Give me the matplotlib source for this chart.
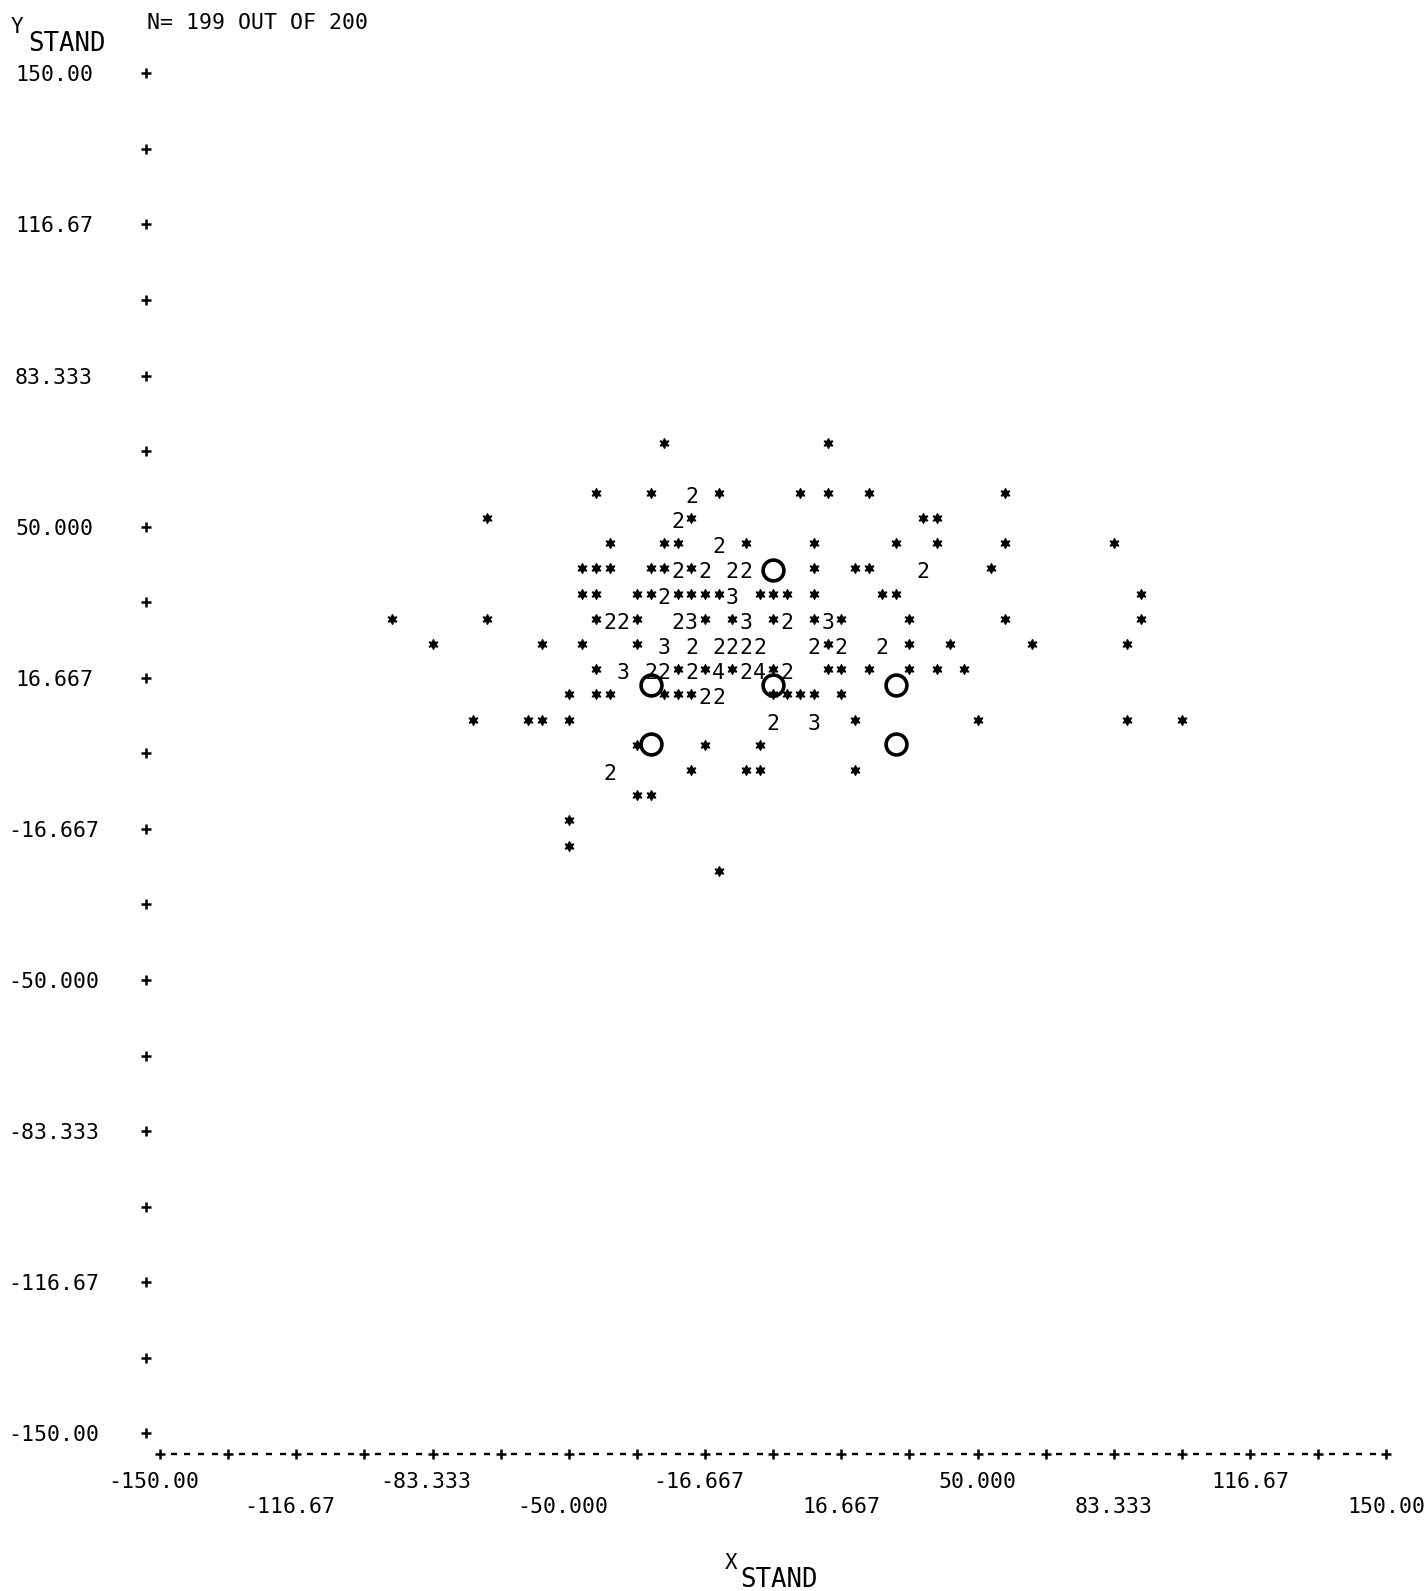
import numpy as np
import matplotlib
matplotlib.use("Agg")
import matplotlib.pyplot as plt
from matplotlib.transforms import ScaledTranslation

plt.rcParams["font.family"] = ["DejaVu Sans Mono", "DejaVu Sans"]

# Printer-plot cells: print line (row), print column and the number of
# observations in the cell ('*' marks one, a digit marks two or more).
cell_row = [15, 15,
            17, 17, 17, 17, 17, 17, 17, 17,
            18, 18, 18, 18, 18,
            19, 19, 19, 19, 19, 19, 19, 19, 19, 19,
            20, 20, 20, 20, 20, 20, 20, 20, 20, 20, 20, 20, 20, 20, 20,
            21, 21, 21, 21, 21, 21, 21, 21, 21, 21, 21, 21, 21, 21, 21, 21, 21,
            22, 22, 22, 22, 22, 22, 22, 22, 22, 22, 22, 22, 22, 22, 22, 22, 22, 22, 22,
            23, 23, 23, 23, 23, 23, 23, 23, 23, 23, 23, 23, 23, 23, 23, 23, 23, 23,
            24, 24, 24, 24, 24, 24, 24, 24, 24, 24, 24, 24, 24, 24, 24, 24, 24, 24, 24,
            25, 25, 25, 25, 25, 25, 25, 25, 25, 25, 25, 25, 25,
            26, 26, 26, 26, 26, 26, 26, 26, 26, 26,
            27, 27, 27,
            28, 28, 28, 28, 28,
            29, 29,
            30, 31, 32]
cell_col = [37, 49,
            32, 36, 39, 41, 47, 49, 52, 62,
            24, 38, 39, 56, 57,
            33, 37, 38, 41, 43, 48, 54, 57, 62, 70,
            31, 32, 33, 36, 37, 38, 39, 40, 42, 43, 48, 51, 52, 56, 61,
            31, 32, 35, 36, 37, 38, 39, 40, 41, 42, 44, 45, 46, 48, 53, 54, 72,
            17, 24, 32, 33, 34, 35, 38, 39, 40, 42, 43, 45, 46, 48, 49, 50, 55, 62, 72,
            20, 28, 31, 35, 37, 39, 41, 42, 43, 44, 48, 49, 50, 53, 55, 58, 64, 71,
            32, 34, 36, 37, 38, 39, 40, 41, 42, 43, 44, 45, 46, 49, 50, 52, 55, 57, 59,
            30, 32, 33, 37, 38, 39, 40, 41, 45, 46, 47, 48, 50,
            23, 27, 28, 30, 45, 48, 51, 60, 71, 75,
            35, 40, 44,
            33, 39, 43, 44, 51,
            35, 36,
            30, 30, 41]
cell_count = [1, 1,
              1, 1, 2, 1, 1, 1, 1, 1,
              1, 2, 1, 1, 1,
              1, 1, 1, 2, 1, 1, 1, 1, 1, 1,
              1, 1, 1, 1, 1, 2, 1, 2, 2, 2, 1, 1, 1, 2, 1,
              1, 1, 1, 1, 2, 1, 1, 1, 1, 3, 1, 1, 1, 1, 1, 1, 1,
              1, 1, 1, 2, 2, 1, 2, 3, 1, 1, 3, 1, 2, 1, 3, 1, 1, 1, 1,
              1, 1, 1, 1, 3, 2, 2, 2, 2, 2, 2, 1, 2, 2, 1, 1, 1, 1,
              1, 3, 2, 2, 1, 2, 1, 4, 1, 2, 4, 1, 2, 1, 1, 1, 1, 1, 1,
              1, 1, 1, 1, 1, 1, 2, 2, 1, 1, 1, 1, 1,
              1, 1, 1, 1, 2, 3, 1, 1, 1, 1,
              1, 1, 1,
              2, 1, 1, 1, 1,
              1, 1,
              1, 1, 1]

# Reference points drawn as open circles
circle_x = [0, -30, 0, 30, -30, 30]
circle_y = [40.5, 15, 15, 15, 2, 2]

# Axis scale: 90 print columns and 54 print lines span -150 .. 150
n_cols, n_rows = 90, 54
axis_lo, axis_hi = -150.0, 150.0
y_tick_labels = ["150.00", "116.67", "83.333", "50.000", "16.667",
                 "-16.667", "-50.000", "-83.333", "-116.67", "-150.00"]
x_tick_labels = ["-150.00", "-116.67", "-83.333", "-50.000", "-16.667",
                 "16.667", "50.000", "83.333", "116.67", "150.00"]
header = "N= 199 OUT OF 200"
x_name, y_name = "X", "Y"
name_sub = "STAND"

# ---------------------------------------------------------------------------
W, H, DPI = 1428, 1591, 100
fig = plt.figure(figsize=(W / DPI, H / DPI), dpi=DPI)
ax = fig.add_axes([0, 0, 1, 1])

X_LEFT_PX, X_PER = 160.0, 4.088     # pixel of x=-150, pixels per x unit
Y_TOP_PX, Y_PER = 73.3, 4.5333      # pixel (from top) of y=150, pixels per y unit
ax.set_xlim(axis_lo - X_LEFT_PX / X_PER, axis_lo + (W - X_LEFT_PX) / X_PER)
ax.set_ylim(axis_hi - (H - Y_TOP_PX) / Y_PER, axis_hi + Y_TOP_PX / Y_PER)
ax.axis("off")


def px_x(px):
    return axis_lo + (px - X_LEFT_PX) / X_PER


def px_y(py):
    return axis_hi - (py - Y_TOP_PX) / Y_PER


def lift(dpx):
    return ax.transData + ScaledTranslation(0, dpx / DPI, fig.dpi_scale_trans)


col_w = (axis_hi - axis_lo) / n_cols
row_h = (axis_hi - axis_lo) / n_rows
cx = axis_lo + np.array(cell_col) * col_w
cy = axis_hi - np.array(cell_row) * row_h
cnt = np.array(cell_count)

# single observations: printed asterisks
one = cnt == 1
ax.plot(cx[one], cy[one], ls="none", marker=(6, 1, 0), ms=7.4, mew=0.8,
        color="black", transform=lift(8.5))
# multiple observations: printed counts
for x, y, c in zip(cx[~one], cy[~one], cnt[~one]):
    ax.text(x, y, str(c), ha="center", va="center_baseline", fontsize=15.5,
            color="black", transform=lift(6.5))

# open circles
ax.plot(circle_x, circle_y, ls="none", marker="o", ms=15, mew=2.6,
        mfc="none", mec="black")

# vertical axis: a '+' every 1/18 of the range, labels every other one
y_ticks = np.linspace(axis_hi, axis_lo, 19)
ax.plot(np.full(y_ticks.size, px_x(146)), y_ticks, ls="none", marker="+",
        ms=7.5, mew=1.8, color="black")
for v, lab in zip(y_ticks[::2], y_tick_labels):
    ax.text(px_x(54), v, lab, ha="center", va="center_baseline", fontsize=15.5)

# horizontal axis: +----+----+ ...
x_pos = np.linspace(axis_lo, axis_hi, n_cols + 1)
is_tick = (np.arange(n_cols + 1) % 5) == 0
y_line = px_y(1454)
ax.plot(x_pos[is_tick], np.full(is_tick.sum(), y_line), ls="none", marker="+",
        ms=7.5, mew=1.8, color="black")
ax.plot(x_pos[~is_tick], np.full((~is_tick).sum(), y_line), ls="none",
        marker="_", ms=5, mew=1.7, color="black")
x_ticks = x_pos[is_tick][::2]
for k, (v, lab) in enumerate(zip(x_ticks, x_tick_labels)):
    yy = px_y(1480) if k % 2 == 0 else px_y(1505)
    ax.text(v + 39 / X_PER, yy, lab, ha="right", va="center_baseline",
            fontsize=15.5)

# axis names and header
ax.text(px_x(11), px_y(25), y_name, ha="left", va="center_baseline", fontsize=15)
ax.text(px_x(28), px_y(41), name_sub, ha="left", va="center_baseline",
        fontsize=18.5)
ax.text(px_x(147), px_y(21), header, ha="left", va="center_baseline",
        fontsize=15.5)
ax.text(px_x(725), px_y(1561), x_name, ha="left", va="center_baseline",
        fontsize=15)
ax.text(px_x(740), px_y(1577), name_sub, ha="left", va="center_baseline",
        fontsize=18.5)

fig.savefig("out.png", dpi=DPI, facecolor="white")
